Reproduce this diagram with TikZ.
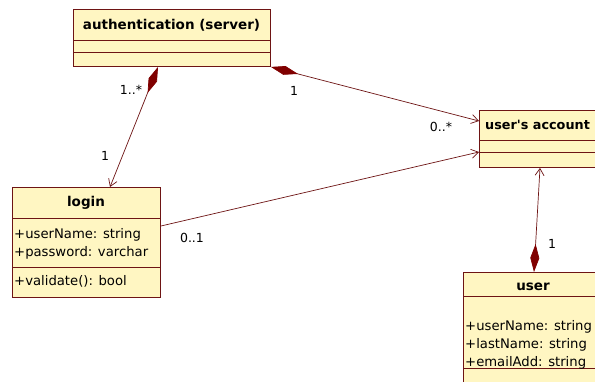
\documentclass[tikz,border=0pt]{standalone}
\usepackage{fontspec}
\setmainfont{DejaVu Sans}
\newfontfamily\plainsans{DejaVu Sans}
\usetikzlibrary{arrows.meta,calc}
\definecolor{umlfill}{RGB}{255,246,194}
\definecolor{umlline}{RGB}{110,20,20}
\definecolor{umldia}{RGB}{128,0,0}
\begin{document}
\begin{tikzpicture}[x=1pt,y=-1pt,
  classbox/.style={draw=umlline,fill=umlfill,line width=0.9pt,anchor=north west,inner sep=0pt},
  sep/.style={draw=umlline,line width=0.9pt},
  title/.style={font=\fontsize{13.5}{16}\selectfont\bfseries,inner sep=0pt},
  attr/.style={font=\fontsize{13.2}{17.8}\selectfont,inner sep=0pt,anchor=west,align=left},
  mult/.style={font=\fontsize{12.5}{14}\selectfont,inner sep=0pt},
  assoc/.style={draw=umlline,line width=0.7pt},
  comp/.style={assoc,{Diamond[length=28pt,width=9pt,fill=umldia,color=umldia]}-{Straight Barb[length=7pt,width=9pt]}},
  nav/.style={assoc,-{Straight Barb[length=7pt,width=9pt]}}]
\useasboundingbox (0,0) rectangle (595,381);
\clip (0,0) rectangle (595,381);
\fill[white] (0,0) rectangle (595,381);
% authentication (server)
\node[classbox,minimum width=197pt,minimum height=57pt] (auth) at (73,9) {};
\draw[sep] (73,40) -- (270,40);
\draw[sep] (73,52) -- (270,52);
\node[title] (authT) at (171.5,25) {authentication (server)};
% login
\node[classbox,minimum width=148pt,minimum height=110pt] (login) at (12,187) {};
\draw[sep] (12,218) -- (160,218);
\draw[sep] (12,267) -- (160,267);
\node[title] (loginT) at (86,203) {login};
\node[attr] (loginA) at (14,243.5) {+userName: string\\+password: varchar};
\node[attr] (loginM) at (14,281) {+validate(): bool};
% user's account
\node[classbox,minimum width=130pt,minimum height=57pt] (acct) at (479,110) {};
\draw[sep] (479,140) -- (609,140);
\draw[sep] (479,152) -- (609,152);
\node[title,anchor=west,font=\plainsans\fontsize{12.8}{15}\selectfont\bfseries] (acctT) at (485,125) {user's account};
% user
\node[classbox,minimum width=145pt,minimum height=130pt] (user) at (463,272) {};
\draw[sep] (463,296) -- (608,296);
\draw[sep] (463,368) -- (608,368);
\node[title] (userT) at (533,287) {user};
\node[attr] (userA) at (465,345) {+userName: string\\+lastName: string\\+emailAdd: string};
% connectors
\draw[comp] ($(auth.south west)+(85,0)$) -- ($(login.north west)+(98,0)$);
\draw[comp] (auth.south east) -- ($(acct.north west)+(0,11)$);
\draw[nav] ($(login.north east)+(0,39)$) -- ($(acct.north west)+(0,42)$);
\draw[comp] ($(user.north west)+(71,0)$) -- ($(acct.south west)+(61,0)$);
% multiplicities
\node[mult] (m1) at (131,90) {1..*};
\node[mult] (m2) at (105,156) {1};
\node[mult] (m3) at (294,91) {1};
\node[mult] (m4) at (441,127) {0..*};
\node[mult] (m5) at (192,238) {0..1};
\node[mult] (m6) at (552,244) {1};
\end{tikzpicture}
\end{document}
